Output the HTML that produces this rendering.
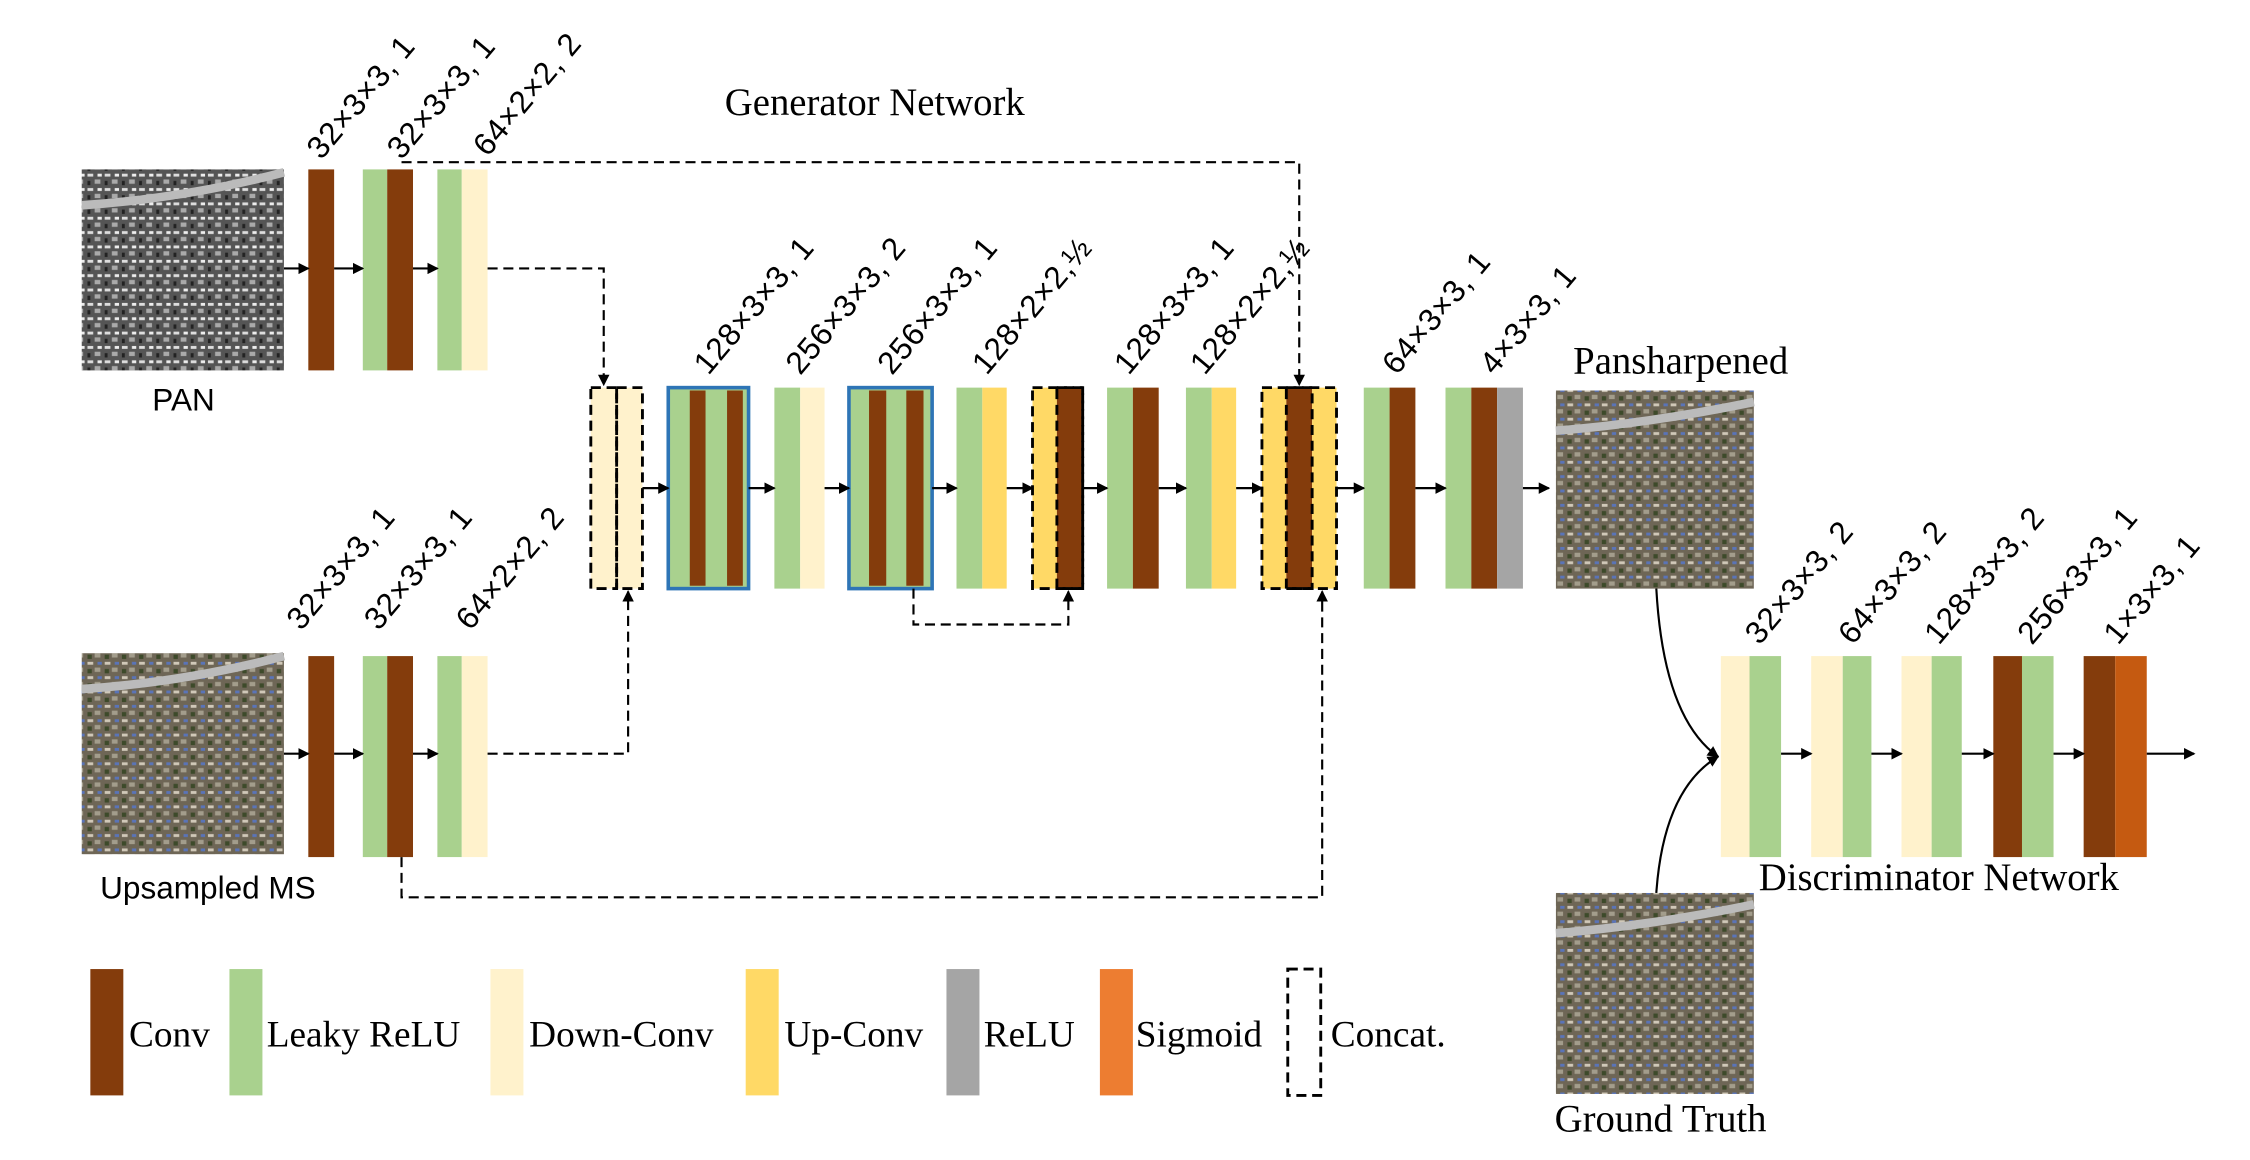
<!DOCTYPE html>
<html><head><meta charset="utf-8"><style>
html,body{margin:0;padding:0;background:#fff;}
svg{display:block;}
text{font-family:"Liberation Sans",sans-serif;fill:#000;}
.sf{font-family:"Liberation Serif",serif;}
</style></head><body>
<svg width="2250" height="1160" viewBox="0 0 1569 808" preserveAspectRatio="none" xmlns="http://www.w3.org/2000/svg">
<defs>
<marker id="ah" markerWidth="8" markerHeight="8" refX="7" refY="4" orient="auto" markerUnits="userSpaceOnUse"><path d="M0,0 L8,4 L0,8 z" fill="#000"/></marker>
<pattern id="pan" width="12" height="10" patternUnits="userSpaceOnUse">
<rect width="12" height="10" fill="#555"/><rect x="1" y="1" width="4" height="2" fill="#ddd"/><rect x="6" y="5" width="4" height="3" fill="#aaa"/><rect x="1" y="6" width="2" height="3" fill="#222"/><rect x="8" y="1" width="3" height="2" fill="#eee"/></pattern>
<pattern id="ms" width="12" height="10" patternUnits="userSpaceOnUse">
<rect width="12" height="10" fill="#6e6656"/><rect x="1" y="1" width="4" height="2" fill="#d0c8b8"/><rect x="6" y="5" width="4" height="3" fill="#a39d8c"/><rect x="1" y="6" width="3" height="3" fill="#3d4a2a"/><rect x="8" y="1" width="3" height="2" fill="#5a74b8"/></pattern>
</defs>

<text class="sf" x="610" y="80" font-size="27" text-anchor="middle">Generator Network</text>

<rect x="57" y="118" width="141" height="140" fill="url(#pan)"/>
<path d="M57,143 Q130,138 198,120" stroke="#bbb" stroke-width="6" fill="none"/>
<text x="128" y="286" font-size="22" text-anchor="middle">PAN</text>
<rect x="57" y="455" width="141" height="140" fill="url(#ms)"/>
<path d="M57,480 Q130,475 198,457" stroke="#bbb" stroke-width="6" fill="none"/>
<text x="145" y="626" font-size="22" text-anchor="middle">Upsampled MS</text>
<rect x="1085" y="272" width="138" height="138" fill="url(#ms)"/>
<path d="M1085,300 Q1150,295 1223,280" stroke="#bbb" stroke-width="6" fill="none"/>
<text class="sf" x="1172" y="260" font-size="27" text-anchor="middle">Pansharpened</text>
<rect x="1085" y="622" width="138" height="140" fill="url(#ms)"/>
<path d="M1085,650 Q1150,645 1223,630" stroke="#bbb" stroke-width="6" fill="none"/>
<text class="sf" x="1158" y="788" font-size="27" text-anchor="middle">Ground Truth</text>

<g>
<rect x="215" y="118" width="18" height="140" fill="#843c0c"/>
<rect x="253" y="118" width="17" height="140" fill="#a9d18e"/><rect x="270" y="118" width="18" height="140" fill="#843c0c"/>
<rect x="305" y="118" width="17" height="140" fill="#a9d18e"/><rect x="322" y="118" width="18" height="140" fill="#fff2cc"/>
<rect x="215" y="457" width="18" height="140" fill="#843c0c"/>
<rect x="253" y="457" width="17" height="140" fill="#a9d18e"/><rect x="270" y="457" width="18" height="140" fill="#843c0c"/>
<rect x="305" y="457" width="17" height="140" fill="#a9d18e"/><rect x="322" y="457" width="18" height="140" fill="#fff2cc"/>
</g>
<g stroke="#000" stroke-width="1.5" marker-end="url(#ah)">
<line x1="198" y1="187" x2="215" y2="187"/><line x1="233" y1="187" x2="253" y2="187"/><line x1="288" y1="187" x2="305" y2="187"/>
<line x1="198" y1="525" x2="215" y2="525"/><line x1="233" y1="525" x2="253" y2="525"/><line x1="288" y1="525" x2="305" y2="525"/>
</g>

<rect x="412" y="270" width="18" height="140" fill="#fff2cc"/><rect x="430" y="270" width="18" height="140" fill="#fff2cc"/>
<rect x="466" y="270" width="56" height="140" fill="#a9d18e" stroke="#2e75b6" stroke-width="2.5"/>
<rect x="481" y="272" width="11" height="136" fill="#843c0c"/><rect x="507" y="272" width="11" height="136" fill="#843c0c"/>
<rect x="540" y="270" width="18" height="140" fill="#a9d18e"/><rect x="558" y="270" width="17" height="140" fill="#fff2cc"/>
<rect x="592" y="270" width="58" height="140" fill="#a9d18e" stroke="#2e75b6" stroke-width="2.5"/>
<rect x="606" y="272" width="12" height="136" fill="#843c0c"/><rect x="632" y="272" width="12" height="136" fill="#843c0c"/>
<rect x="667" y="270" width="18" height="140" fill="#a9d18e"/><rect x="685" y="270" width="17" height="140" fill="#ffd966"/>
<rect x="720" y="270" width="17" height="140" fill="#ffd966"/><rect x="737" y="270" width="18" height="140" fill="#843c0c"/>
<rect x="772" y="270" width="18" height="140" fill="#a9d18e"/><rect x="790" y="270" width="18" height="140" fill="#843c0c"/>
<rect x="827" y="270" width="18" height="140" fill="#a9d18e"/><rect x="845" y="270" width="17" height="140" fill="#ffd966"/>
<rect x="880" y="270" width="17" height="140" fill="#ffd966"/><rect x="897" y="270" width="18" height="140" fill="#843c0c"/><rect x="915" y="270" width="17" height="140" fill="#ffd966"/>
<rect x="951" y="270" width="18" height="140" fill="#a9d18e"/><rect x="969" y="270" width="18" height="140" fill="#843c0c"/>
<rect x="1008" y="270" width="18" height="140" fill="#a9d18e"/><rect x="1026" y="270" width="18" height="140" fill="#843c0c"/><rect x="1044" y="270" width="18" height="140" fill="#a5a5a5"/>

<g fill="none" stroke="#000" stroke-width="2" stroke-dasharray="7,4">
<rect x="412" y="270" width="18" height="140"/><rect x="430" y="270" width="18" height="140"/>
<rect x="720" y="270" width="35" height="140"/><rect x="737" y="270" width="18" height="140"/>
<rect x="880" y="270" width="52" height="140"/><rect x="897" y="270" width="18" height="140"/>
</g>
<g fill="none" stroke="#000" stroke-width="1.5" stroke-dasharray="7,4">
<polyline points="340,187 421,187 421,268" marker-end="url(#ah)"/>
<polyline points="340,525 438,525 438,412" marker-end="url(#ah)"/>
<polyline points="637,410 637,435 745,435 745,412" marker-end="url(#ah)"/>
<polyline points="280,113 906,113 906,268" marker-end="url(#ah)"/>
<polyline points="280,597 280,625 922,625 922,412" marker-end="url(#ah)"/>
</g>
<g stroke="#000" stroke-width="1.5" marker-end="url(#ah)">
<line x1="448" y1="340" x2="466" y2="340"/><line x1="522" y1="340" x2="540" y2="340"/><line x1="575" y1="340" x2="592" y2="340"/>
<line x1="650" y1="340" x2="667" y2="340"/><line x1="702" y1="340" x2="720" y2="340"/><line x1="755" y1="340" x2="772" y2="340"/>
<line x1="808" y1="340" x2="827" y2="340"/><line x1="862" y1="340" x2="880" y2="340"/><line x1="932" y1="340" x2="951" y2="340"/>
<line x1="987" y1="340" x2="1008" y2="340"/><line x1="1062" y1="340" x2="1080" y2="340"/>
</g>

<rect x="1200" y="457" width="20" height="140" fill="#fff2cc"/><rect x="1220" y="457" width="22" height="140" fill="#a9d18e"/>
<rect x="1263" y="457" width="22" height="140" fill="#fff2cc"/><rect x="1285" y="457" width="20" height="140" fill="#a9d18e"/>
<rect x="1326" y="457" width="21" height="140" fill="#fff2cc"/><rect x="1347" y="457" width="21" height="140" fill="#a9d18e"/>
<rect x="1390" y="457" width="20" height="140" fill="#843c0c"/><rect x="1410" y="457" width="22" height="140" fill="#a9d18e"/>
<rect x="1453" y="457" width="22" height="140" fill="#843c0c"/><rect x="1475" y="457" width="22" height="140" fill="#c55a11"/>
<g stroke="#000" stroke-width="1.5" marker-end="url(#ah)">
<line x1="1242" y1="525" x2="1263" y2="525"/><line x1="1305" y1="525" x2="1326" y2="525"/><line x1="1368" y1="525" x2="1390" y2="525"/>
<line x1="1432" y1="525" x2="1453" y2="525"/><line x1="1497" y1="525" x2="1530" y2="525"/>
<path d="M1155,410 Q1160,500 1198,527" fill="none"/>
<path d="M1155,622 Q1160,550 1198,527" fill="none"/>
</g>
<text class="sf" x="1352" y="620" font-size="27" text-anchor="middle">Discriminator Network</text>

<g font-size="22" letter-spacing="0.5">
<text transform="translate(224,112) rotate(-50)">32×3×3, 1</text>
<text transform="translate(280,112) rotate(-50)">32×3×3, 1</text>
<text transform="translate(340,110) rotate(-50)">64×2×2, 2</text>
<text transform="translate(210,440) rotate(-50)">32×3×3, 1</text>
<text transform="translate(264,440) rotate(-50)">32×3×3, 1</text>
<text transform="translate(328,440) rotate(-50)">64×2×2, 2</text>
<text transform="translate(494,262) rotate(-50)">128×3×3, 1</text>
<text transform="translate(558,262) rotate(-50)">256×3×3, 2</text>
<text transform="translate(622,262) rotate(-50)">256×3×3, 1</text>
<text transform="translate(688,262) rotate(-50)">128×2×2,½</text>
<text transform="translate(787,262) rotate(-50)">128×3×3, 1</text>
<text transform="translate(840,262) rotate(-50)">128×2×2,½</text>
<text transform="translate(974,262) rotate(-50)">64×3×3, 1</text>
<text transform="translate(1042,262) rotate(-50)">4×3×3, 1</text>
<text transform="translate(1227,450) rotate(-50)">32×3×3, 2</text>
<text transform="translate(1292,450) rotate(-50)">64×3×3, 2</text>
<text transform="translate(1352,450) rotate(-50)">128×3×3, 2</text>
<text transform="translate(1417,450) rotate(-50)">256×3×3, 1</text>
<text transform="translate(1477,450) rotate(-50)">1×3×3, 1</text>
</g>

<rect x="63" y="675" width="23" height="88" fill="#843c0c"/>
<rect x="160" y="675" width="23" height="88" fill="#a9d18e"/>
<rect x="342" y="675" width="23" height="88" fill="#fff2cc"/>
<rect x="520" y="675" width="23" height="88" fill="#ffd966"/>
<rect x="660" y="675" width="23" height="88" fill="#a5a5a5"/>
<rect x="767" y="675" width="23" height="88" fill="#ed7d31"/>
<rect x="898" y="675" width="23" height="88" fill="none" stroke="#000" stroke-width="2" stroke-dasharray="7,4"/>
<g font-size="26">
<text class="sf" x="90" y="729">Conv</text>
<text class="sf" x="186" y="729">Leaky ReLU</text>
<text class="sf" x="369" y="729">Down-Conv</text>
<text class="sf" x="547" y="729">Up-Conv</text>
<text class="sf" x="686" y="729">ReLU</text>
<text class="sf" x="792" y="729">Sigmoid</text>
<text class="sf" x="928" y="729">Concat.</text>
</g>
</svg>
</body></html>
